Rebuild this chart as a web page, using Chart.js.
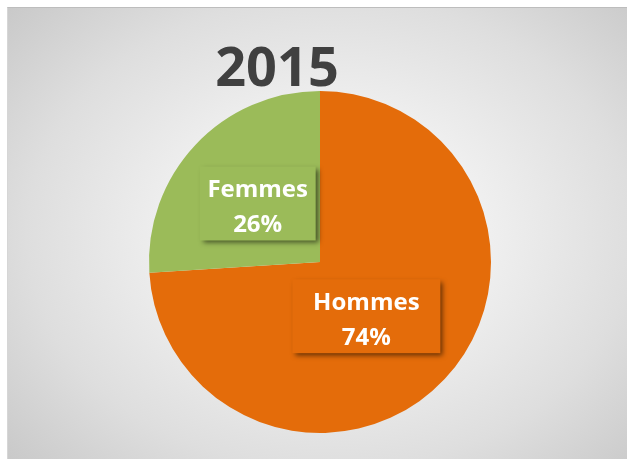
<!DOCTYPE html>
<html>
<head>
<meta charset="utf-8">
<script src="https://cdn.jsdelivr.net/npm/chart.js@4/dist/chart.umd.min.js"></script>
<style>
  html, body { margin: 0; padding: 0; background: #ffffff; }
  #wrap { position: relative; width: 627px; height: 459px; overflow: hidden; }
  #bg {
    position: absolute; left: 7px; top: 7px; right: 0; bottom: 0;
    background: radial-gradient(ellipse 70% 75% at 52% 50%, #fbfbfb 0%, #f0f0f0 35%, #dedede 70%, #c9c9c9 100%);
    border-top: 1px solid #bdbdbd; border-left: 1px solid #d6d6d6;
  }
  canvas { position: absolute; left: 0; top: 0; }
</style>
</head>
<body>
<div id="wrap">
  <div id="bg"></div>
  <canvas id="c" width="627" height="459"></canvas>
</div>
<script>
// ---- data ----
const title = "2015";
const categories = ["Hommes", "Femmes"];
const values = [74, 26];
const percentLabels = ["74%", "26%"];

// ---- styles ----
const sliceColors = ["#E46C0A", "#9BBB59"];
const labelStyle = [
  { boxW: 148, boxH: 74, frac: 0.42, dx: -6, dy: 5 },
  { boxW: 116, boxH: 74, frac: 0.50, dx: 0, dy: 0 }
];

const titlePlugin = {
  id: 'customTitle',
  afterDraw(chart) {
    const ctx = chart.ctx;
    ctx.save();
    ctx.font = 'bold 54px "Open Sans", sans-serif';
    ctx.fillStyle = '#404040';
    ctx.textAlign = 'center';
    ctx.textBaseline = 'alphabetic';
    ctx.fillText(title, 277, 86);
    ctx.restore();
  }
};

const boxLabelPlugin = {
  id: 'boxLabels',
  afterDatasetsDraw(chart) {
    const ctx = chart.ctx;
    const meta = chart.getDatasetMeta(0);
    meta.data.forEach((arc, i) => {
      const p = arc.getProps(['x', 'y', 'startAngle', 'endAngle', 'outerRadius'], true);
      const mid = (p.startAngle + p.endAngle) / 2;
      const st = labelStyle[i];
      const cx = p.x + Math.cos(mid) * p.outerRadius * st.frac + st.dx;
      const cy = p.y + Math.sin(mid) * p.outerRadius * st.frac + st.dy;
      ctx.save();
      ctx.shadowColor = 'rgba(0,0,0,0.55)';
      ctx.shadowBlur = 5;
      ctx.shadowOffsetX = 3;
      ctx.shadowOffsetY = 3;
      ctx.fillStyle = sliceColors[i];
      ctx.fillRect(cx - st.boxW / 2, cy - st.boxH / 2, st.boxW, st.boxH);
      ctx.restore();
      ctx.save();
      ctx.fillStyle = '#ffffff';
      ctx.font = 'bold 24px "Open Sans", sans-serif';
      ctx.textAlign = 'center';
      ctx.textBaseline = 'alphabetic';
      ctx.fillText(categories[i], cx, cy - 6);
      ctx.fillText(percentLabels[i], cx, cy + 29);
      ctx.restore();
    });
  }
};

new Chart(document.getElementById('c'), {
  type: 'pie',
  data: {
    labels: categories,
    datasets: [{
      data: values,
      backgroundColor: sliceColors,
      borderWidth: 0
    }]
  },
  options: {
    responsive: false,
    animation: false,
    layout: { padding: { left: 149, right: 136, top: 91, bottom: 26 } },
    plugins: {
      legend: { display: false },
      title: { display: false },
      tooltip: { enabled: false }
    }
  },
  plugins: [titlePlugin, boxLabelPlugin]
});
</script>
</body>
</html>
